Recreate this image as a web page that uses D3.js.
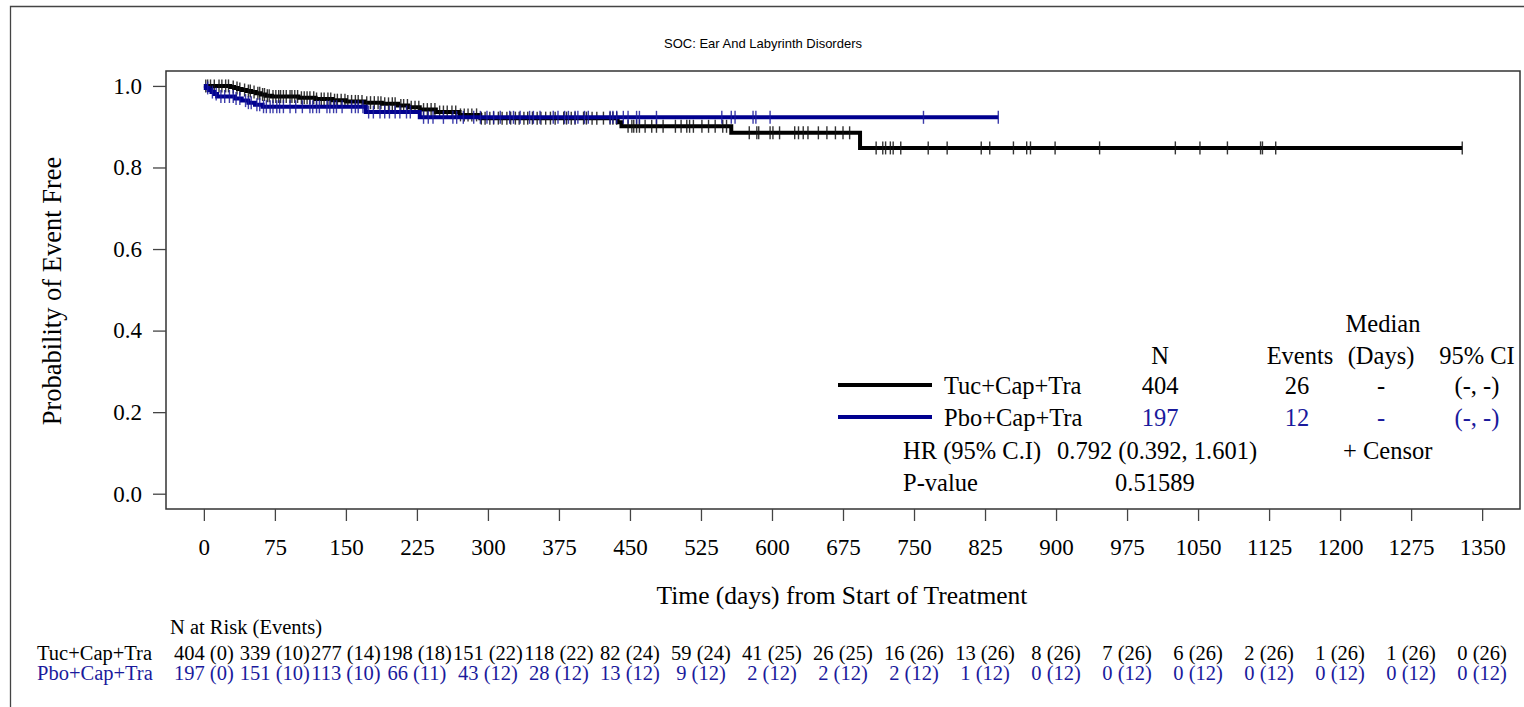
<!DOCTYPE html>
<html>
<head>
<meta charset="utf-8">
<script src="https://cdn.jsdelivr.net/npm/d3@7"></script>
<style>
  html, body { margin: 0; padding: 0; background: #fff; }
  svg { display: block; }
</style>
</head>
<body>
<svg id="chart" width="1524" height="707"></svg>
<script>
// ---------------- DATA ----------------
const chartTitle = "SOC: Ear And Labyrinth Disorders";
const yAxisTitle = "Probability of Event Free";
const xAxisTitle = "Time (days) from Start of Treatment";
const armNames = ["Tuc+Cap+Tra", "Pbo+Cap+Tra"];

const xTicks = [0, 75, 150, 225, 300, 375, 450, 525, 600, 675, 750, 825, 900, 975, 1050, 1125, 1200, 1275, 1350];
const yTicks = [0.0, 0.2, 0.4, 0.6, 0.8, 1.0];

// Kaplan-Meier step points (time in days, survival)
const tucStepTimes = [0, 28, 32, 36, 40, 45, 50, 55, 60, 65, 72, 100, 118, 136, 150, 170, 188, 205, 216, 228, 245, 270, 292, 437, 441, 557, 693];
const tucStepSurv  = [1.000, 0.9975, 0.995, 0.9925, 0.990, 0.9875, 0.985, 0.982, 0.979, 0.976, 0.974, 0.971, 0.968, 0.965, 0.962, 0.959, 0.956, 0.952, 0.948, 0.942, 0.936, 0.929, 0.921, 0.911, 0.901, 0.885, 0.848];
const tucLastTime = 1329;

const pboStepTimes = [0, 2, 5, 8, 11, 14, 33, 40, 47, 54, 62, 171, 228];
const pboStepSurv  = [1.000, 0.995, 0.990, 0.985, 0.980, 0.974, 0.969, 0.964, 0.959, 0.954, 0.949, 0.936, 0.923];
const pboLastTime = 839;

// censoring times (days)
const tucCensor = [2, 4, 7, 11, 16, 19, 23, 26, 31, 35, 38, 43, 47, 49, 53, 57, 59, 62, 64, 67, 69, 73, 76, 79, 81, 84, 87, 91, 93, 96, 99, 103, 106, 109, 112, 116, 119, 124, 127, 131, 134, 138, 141, 145, 149, 152, 156, 160, 163, 167, 172, 176, 180, 184, 187, 191, 195, 199, 202, 208, 211, 215, 219, 223, 227, 232, 236, 240, 244, 249, 253, 257, 262, 266, 271, 275, 279, 283, 288, 293, 297, 302, 306, 311, 315, 320, 324, 329, 333, 338, 342, 347, 352, 356, 361, 366, 371,
  380, 383, 388, 392, 401, 404, 410, 415, 422, 429, 432, 436, 448, 452, 454, 457, 460, 466, 473, 478, 485, 498, 504, 510, 513, 517, 526, 533, 540, 548, 552,
  576, 584, 586, 598, 601, 608, 624, 628, 633, 638, 649, 658, 667, 675, 682,
  710, 717, 720, 725, 728, 736, 765, 785, 821, 830, 855, 869, 873, 899, 946, 1026, 1052, 1081, 1116, 1118, 1132, 1329];
const pboCensor = [4, 9, 13, 18, 22, 27, 31, 34, 38, 44, 47, 50, 56, 59, 63, 66, 70, 73, 77, 80, 84, 91, 97, 104, 112, 115, 119, 122, 130, 133, 137, 140, 146, 156, 160, 163, 168, 174, 179, 186, 191, 196, 202, 207, 214, 218, 232, 237, 242, 253, 263, 267, 274, 285, 292, 299, 306, 313, 323, 327, 334, 344, 348, 355, 369, 374,
  381, 385, 392, 395, 402, 406, 429, 432, 436, 443, 448, 457, 460, 478, 547, 557, 561, 580, 583, 598, 760, 839];

// number at risk table
const tucAtRisk = [404, 339, 277, 198, 151, 118, 82, 59, 41, 26, 16, 13, 8, 7, 6, 2, 1, 1, 0];
const tucEvents = [0, 10, 14, 18, 22, 22, 24, 24, 25, 25, 26, 26, 26, 26, 26, 26, 26, 26, 26];
const pboAtRisk = [197, 151, 113, 66, 43, 28, 13, 9, 2, 2, 2, 1, 0, 0, 0, 0, 0, 0, 0];
const pboEvents = [0, 10, 10, 11, 12, 12, 12, 12, 12, 12, 12, 12, 12, 12, 12, 12, 12, 12, 12];

// legend statistics
const legendN = [404, 197];
const legendEvents = [26, 12];
const legendMedian = ["-", "-"];
const legendCI = ["(-, -)", "(-, -)"];
const hrText = "0.792 (0.392, 1.601)";
const pValueText = "0.51589";

// ---------------- DRAW ----------------
const SERIF = "'Liberation Serif', 'Times New Roman', serif";
const BLACK = "#000000";
const BLUE = "#00008f";
const BLUE_TEXT = "#1a1a9c";

const svg = d3.select("#chart");

const x = d3.scaleLinear().domain([-40, 1390]).range([166, 1520]);
const y = d3.scaleLinear().domain([-0.0375, 1.0366]).range([509, 71]);

// outer frame (top and left visible)
svg.append("path").attr("d", "M10.5,707 L10.5,6.5 L1524,6.5")
  .attr("fill", "none").attr("stroke", "#444").attr("stroke-width", 1.3);

// title
svg.append("text").attr("x", 763).attr("y", 43)
  .attr("text-anchor", "middle").attr("dominant-baseline", "central")
  .style("font-family", "'Liberation Sans', Arial, sans-serif").style("font-size", "13px")
  .text(chartTitle);

// plot box
svg.append("rect").attr("x", 166).attr("y", 71).attr("width", 1520 - 166).attr("height", 509 - 71)
  .attr("fill", "none").attr("stroke", "#333").attr("stroke-width", 1.5);

// y axis
const yAxis = svg.append("g").attr("transform", "translate(166,0)")
  .call(d3.axisLeft(y).tickValues(yTicks).tickFormat(d3.format(".1f")).tickSize(13).tickPadding(11));
yAxis.select(".domain").remove();
yAxis.selectAll(".tick line").attr("stroke", "#444").attr("stroke-width", 1.3);
yAxis.selectAll(".tick text").style("font-size", "23px")
  .style("font-family", SERIF).attr("fill", "#000");

// x axis
const xAxis = svg.append("g").attr("transform", "translate(0,509)")
  .call(d3.axisBottom(x).tickValues(xTicks).tickFormat(d3.format("d")).tickSize(12).tickPadding(18));
xAxis.select(".domain").remove();
xAxis.selectAll(".tick line").attr("stroke", "#444").attr("stroke-width", 1.3);
xAxis.selectAll(".tick text").style("font-size", "23px")
  .style("font-family", SERIF).attr("fill", "#000");

// axis titles
svg.append("text").attr("transform", "translate(52,291) rotate(-90)")
  .attr("text-anchor", "middle").attr("dominant-baseline", "central")
  .style("font-family", SERIF).style("font-size", "26.5px")
  .text(yAxisTitle);
svg.append("text").attr("x", 842).attr("y", 595)
  .attr("text-anchor", "middle").attr("dominant-baseline", "central")
  .style("font-family", SERIF).style("font-size", "25.5px")
  .text(xAxisTitle);

// KM curves
function stepData(times, surv, lastTime) {
  const pts = times.map((t, i) => [t, surv[i]]);
  pts.push([lastTime, surv[surv.length - 1]]);
  return pts;
}
function survAt(times, surv, t) {
  let s = surv[0];
  for (let i = 0; i < times.length; i++) { if (times[i] <= t) s = surv[i]; }
  return s;
}
const line = d3.line().x(d => x(d[0])).y(d => y(d[1])).curve(d3.curveStepAfter);

const arms = [
  { times: tucStepTimes, surv: tucStepSurv, last: tucLastTime, censor: tucCensor, color: BLACK, tick: "#111" },
  { times: pboStepTimes, surv: pboStepSurv, last: pboLastTime, censor: pboCensor, color: BLUE, tick: "#1a1a9c" }
];

arms.forEach(a => {
  svg.append("path").datum(stepData(a.times, a.surv, a.last))
    .attr("d", line).attr("fill", "none").attr("stroke", a.color).attr("stroke-width", 4)
    .attr("stroke-linejoin", "miter");
  svg.append("g").selectAll("line").data(a.censor).join("line")
    .attr("x1", d => x(d)).attr("x2", d => x(d))
    .attr("y1", d => y(survAt(a.times, a.surv, d)) - 6.5)
    .attr("y2", d => y(survAt(a.times, a.surv, d)) + 6.5)
    .attr("stroke", a.tick).attr("stroke-width", 1.4).attr("stroke-opacity", 0.85);
});

// legend / statistics block
const lg = svg.append("g").style("font-family", SERIF).style("font-size", "24.5px");
function t(xp, yp, txt, anchor, color) {
  lg.append("text").attr("x", xp).attr("y", yp).attr("text-anchor", anchor || "middle")
    .attr("dominant-baseline", "central").attr("fill", color || "#000").text(txt);
}
t(1383, 323, "Median");
t(1160, 355, "N");
t(1300, 355, "Events");
t(1381, 355, "(Days)");
t(1477, 355, "95% CI");
const rowsY = [385, 417];
const armColors = [BLACK, BLUE];
const textColors = ["#000", BLUE_TEXT];
rowsY.forEach((ry, i) => {
  lg.append("line").attr("x1", 838).attr("x2", 932).attr("y1", ry).attr("y2", ry)
    .attr("stroke", armColors[i]).attr("stroke-width", 4);
  t(944, ry, armNames[i], "start", "#000");
  t(1160, ry, legendN[i], "middle", textColors[i]);
  t(1297, ry, legendEvents[i], "middle", textColors[i]);
  t(1381, ry, legendMedian[i], "middle", textColors[i]);
  t(1477, ry, legendCI[i], "middle", textColors[i]);
});
t(903, 450, "HR (95% C.I)", "start");
t(1057, 450, hrText, "start");
t(1343, 450, "+ Censor", "start");
t(903, 482, "P-value", "start");
t(1115, 482, pValueText, "start");

// number at risk table
const rt = svg.append("g").style("font-family", SERIF).style("font-size", "20.5px");
rt.append("text").attr("x", 170).attr("y", 627).attr("dominant-baseline", "central").text("N at Risk (Events)");
const riskRows = [
  { y: 653, n: tucAtRisk, e: tucEvents, color: "#000" },
  { y: 673, n: pboAtRisk, e: pboEvents, color: BLUE_TEXT }
];
riskRows.forEach((r, i) => {
  rt.append("text").attr("x", 37).attr("y", r.y).attr("dominant-baseline", "central")
    .attr("fill", r.color).text(armNames[i]);
  rt.selectAll(null).data(xTicks).join("text")
    .attr("x", d => x(d)).attr("y", r.y).attr("text-anchor", "middle")
    .attr("dominant-baseline", "central").attr("fill", r.color)
    .text((d, j) => `${r.n[j]} (${r.e[j]})`);
});
</script>
</body>
</html>
